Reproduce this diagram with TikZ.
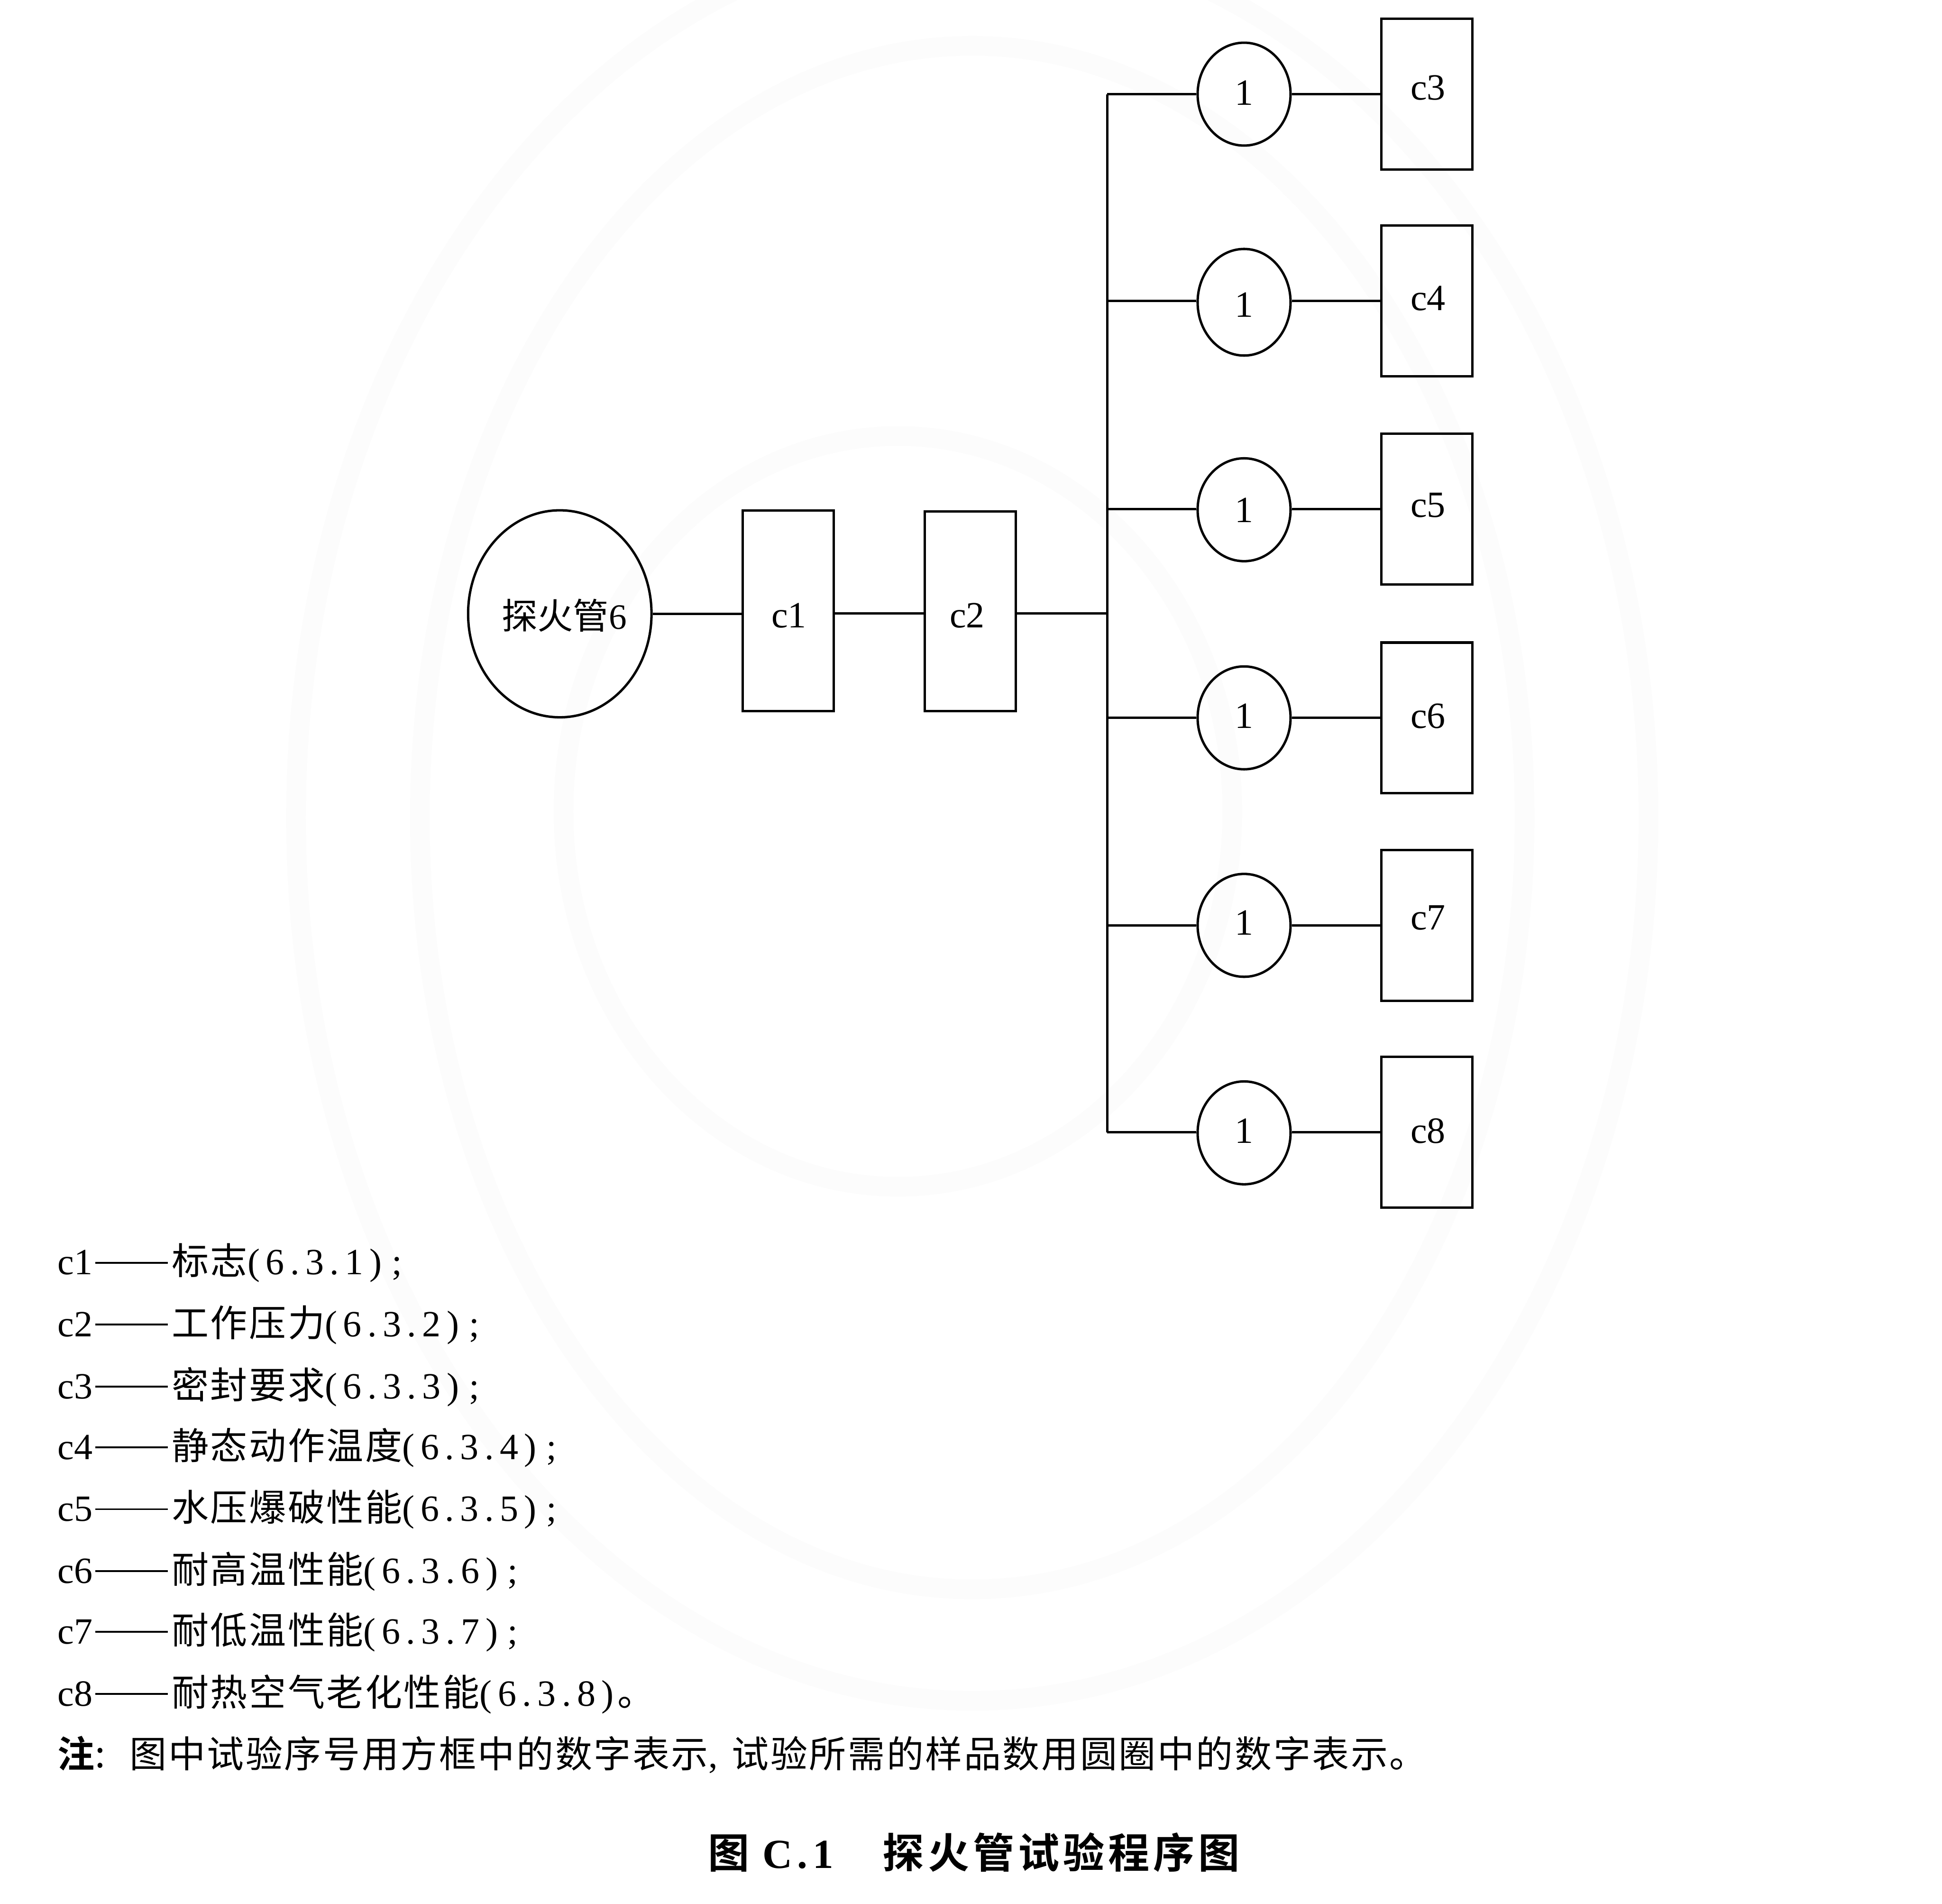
\documentclass[tikz,border=0pt]{standalone}
\usepackage{fontspec}
\setmainfont{Liberation Serif}
\newfontfamily\cjk{Noto Sans CJK SC}
\newfontfamily\cjkb{Noto Sans CJK SC Bold}
\newfontfamily\numf[LetterSpace=16]{Liberation Serif}
\newfontfamily\numb[LetterSpace=12]{Liberation Serif Bold}
\usetikzlibrary{shapes.geometric}
\tikzset{
 x=0.01cm,y=-0.01cm,
 wire/.style={line width=0.55pt,black},
 boxn/.style={draw,line width=0.55pt,minimum width=0.735cm,inner sep=0pt},
 circn/.style={draw,ellipse,line width=0.55pt,minimum width=0.75cm,inner sep=0pt},
 tag/.style={inner sep=0pt,font=\fontsize{8.5}{10}\selectfont},
 legend/.style={anchor=base west,inner sep=0pt,font=\fontsize{8.5}{10}\selectfont},
 ring/.style={draw=black!1.2,line width=4.5pt},
 ringb/.style={draw=black!1.2,line width=4.5pt}
}
\newcommand{\zh}[1]{{\cjk\addfontfeatures{LetterSpace=4.5}#1}}
\newcommand{\zhb}[1]{{\cjkb\addfontfeatures{LetterSpace=9}#1}}
\newcommand{\lead}[1]{\makebox[0.92cm][l]{#1\hspace{0.02cm}\rule[0.3em]{0.585cm}{0.4pt}}}
\begin{document}
\begin{tikzpicture}
\useasboundingbox (0,0) rectangle (1568,1537);
\fill[white] (0,0) rectangle (1568,1537);
% watermark
\draw[ring] (785,660) ellipse [x radius=546,y radius=713];
\draw[ring] (785,660) ellipse [x radius=446,y radius=623];
\draw[ringb] (725,655) ellipse [x radius=270,y radius=303];
% main
\node[ellipse,draw,line width=0.55pt,minimum width=1.48cm,minimum height=1.67cm,inner sep=0pt] (src) at (452,495.5) {};
\node[tag,font=\fontsize{8.2}{10}\selectfont] (srct) at (455.5,497) {{\cjk 探火管}6};
\node[boxn,minimum height=1.62cm] (c1) at (636.5,493) {};
\node[boxn,minimum height=1.61cm] (c2) at (783.5,493.5) {};
\node[tag] (c1t) at (637,497) {c1};
\node[tag] (c2t) at (781,497) {c2};
\coordinate (bus) at (894,495);
\draw[wire] (src.east) -- (c1.west|-src.east);
\draw[wire] (c1.east|-bus) -- (c2.west|-bus);
\draw[wire] (c2.east|-bus) -- (bus);
\foreach \n/\ya/\yb/\h/\yc/\yt in {c3/76/76/0.83/75/71,c4/244/243/0.86/246/241,c5/411.5/411/0.83/412/408,c6/579.5/579.5/0.83/578/578,c7/747/747/0.83/745/741,c8/914.5/914/0.83/913/913}{
 \node[circn,minimum height=\h cm] (o\n) at (1004.5,\ya) {};
 \node[tag] (o\n t) at (1004.5,\yc) {1};
 \node[boxn,minimum height=1.215cm] (\n) at (1152,\yb) {};
 \node[tag] (\n t) at (1153,\yt) {\n};
 \coordinate (t\n) at (894,\yb);
 \draw[wire] (t\n) -- (o\n.west|-t\n);
 \draw[wire] (o\n.east|-t\n) -- (\n.west|-t\n);
}
\draw[wire] (tc3) -- (tc8);
% legend
\foreach \k/\y/\t/\r in {c1/1029/标志/6.3.1,c2/1079/工作压力/6.3.2,c3/1129/密封要求/6.3.3,c4/1178/静态动作温度/6.3.4,c5/1228/水压爆破性能/6.3.5,c6/1278/耐高温性能/6.3.6,c7/1327/耐低温性能/6.3.7}{
 \node[legend] (l\k) at (46,\y) {\lead{\k}\zh{\t}{\numf(\r)\hspace{0.08cm};}};
}
\node[legend] (lc8) at (46,1377) {\lead{c8}\zh{耐热空气老化性能}{\numf(6.3.8)}\hspace{0.03cm}\zh{。}};
\node[legend] (note) at (46,1427) {\makebox[0.58cm][l]{{\cjkb 注}{\cjk :}}\zh{图中试验序号用方框中的数字表示}\makebox[0.19cm][l]{,}\zh{试验所需的样品数用圆圈中的数字表示。}};
\node[anchor=base west,inner sep=0pt,font=\fontsize{9.5}{11}\selectfont] (cap) at (571,1508) {\makebox[0.44cm][l]{\cjkb 图}\makebox[0.97cm][l]{\numb\bfseries C.1}\zhb{探火管试验程序图}};
\end{tikzpicture}
\end{document}
